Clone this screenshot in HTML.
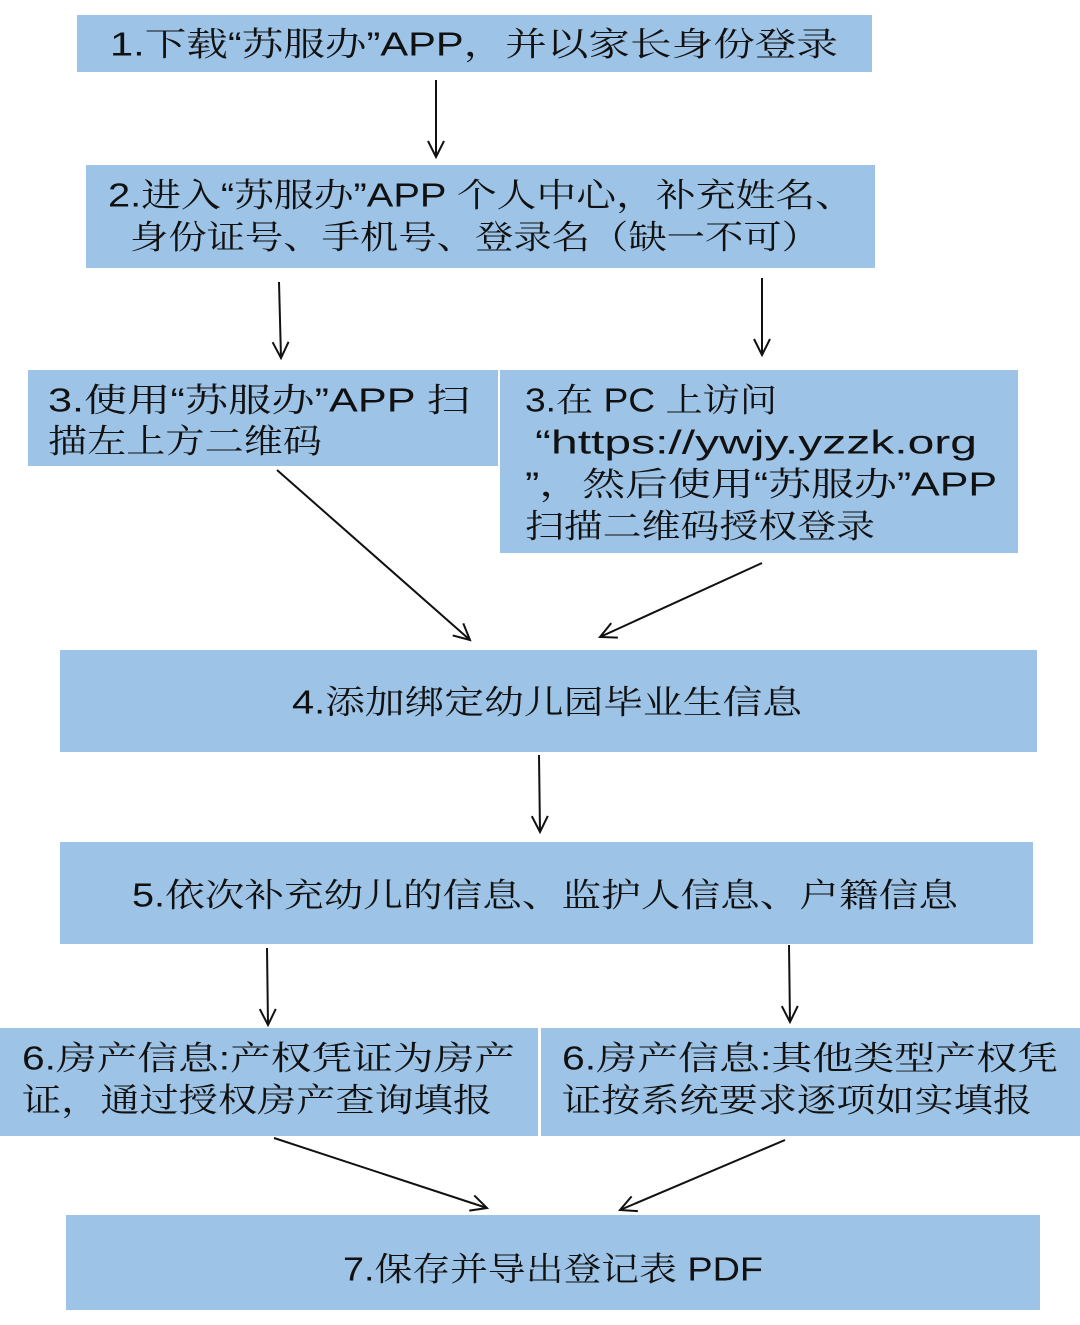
<!DOCTYPE html>
<html><head><meta charset="utf-8"><style>
html,body{margin:0;padding:0;background:#fff;}
svg{display:block}
text{font-family:"Liberation Sans","Noto Serif CJK SC","Noto Sans CJK SC",serif;font-size:33px;fill:#111;dominant-baseline:central}
</style></head><body>
<svg width="1080" height="1325" viewBox="0 0 1080 1325" xmlns="http://www.w3.org/2000/svg">
<defs>
<marker id="a" viewBox="0 0 20 20" refX="18" refY="10" markerWidth="20" markerHeight="20" markerUnits="userSpaceOnUse" orient="auto">
<path d="M2,2 L18,10 L2,18" fill="none" stroke="#111" stroke-width="2"/>
</marker>
</defs>
<g fill="#9dc3e6">
<rect x="77" y="15" width="795" height="57"/>
<rect x="86" y="165" width="789" height="103"/>
<rect x="28" y="370" width="470" height="96"/>
<rect x="500" y="370" width="518" height="183"/>
<rect x="60" y="650" width="977" height="102"/>
<rect x="60" y="842" width="973" height="102"/>
<rect x="0" y="1028" width="538" height="108"/>
<rect x="541" y="1028" width="539" height="108"/>
<rect x="66" y="1215" width="974" height="95"/>
</g>
<text x="110" y="44" textLength="728" lengthAdjust="spacingAndGlyphs">1.下载“苏服办”APP，并以家长身份登录</text>
<text x="108" y="195" textLength="747" lengthAdjust="spacingAndGlyphs">2.进入“苏服办”APP 个人中心，补充姓名、</text>
<text x="130" y="237" textLength="690" lengthAdjust="spacingAndGlyphs">身份证号、手机号、登录名（缺一不可）</text>
<text x="48" y="400" textLength="422" lengthAdjust="spacingAndGlyphs">3.使用“苏服办”APP 扫</text>
<text x="48" y="441" textLength="274" lengthAdjust="spacingAndGlyphs">描左上方二维码</text>
<text x="525" y="400" textLength="252" lengthAdjust="spacingAndGlyphs">3.在 PC 上访问</text>
<text x="535" y="442" textLength="442" lengthAdjust="spacingAndGlyphs">“https://ywjy.yzzk.org</text>
<text x="525" y="484" textLength="472" lengthAdjust="spacingAndGlyphs">”，然后使用“苏服办”APP</text>
<text x="525" y="526" textLength="350" lengthAdjust="spacingAndGlyphs">扫描二维码授权登录</text>
<text x="292" y="702" textLength="510" lengthAdjust="spacingAndGlyphs">4.添加绑定幼儿园毕业生信息</text>
<text x="132" y="895" textLength="826" lengthAdjust="spacingAndGlyphs">5.依次补充幼儿的信息、监护人信息、户籍信息</text>
<text x="22" y="1058" textLength="493" lengthAdjust="spacingAndGlyphs">6.房产信息:产权凭证为房产</text>
<text x="22" y="1100" textLength="470" lengthAdjust="spacingAndGlyphs">证，通过授权房产查询填报</text>
<text x="562" y="1058" textLength="496" lengthAdjust="spacingAndGlyphs">6.房产信息:其他类型产权凭</text>
<text x="562" y="1100" textLength="470" lengthAdjust="spacingAndGlyphs">证按系统要求逐项如实填报</text>
<text x="343" y="1269" textLength="420" lengthAdjust="spacingAndGlyphs">7.保存并导出登记表 PDF</text>
<g stroke="#111" stroke-width="2" fill="none" marker-end="url(#a)">
<line x1="436" y1="80" x2="436" y2="157"/>
<line x1="279" y1="282" x2="281" y2="358"/>
<line x1="762" y1="278" x2="762" y2="355"/>
<line x1="277" y1="470" x2="470" y2="640"/>
<line x1="762" y1="563" x2="600" y2="637"/>
<line x1="539" y1="755" x2="540" y2="832"/>
<line x1="267" y1="948" x2="268" y2="1025"/>
<line x1="789" y1="945" x2="790" y2="1022"/>
<line x1="274" y1="1138" x2="487" y2="1208"/>
<line x1="785" y1="1140" x2="620" y2="1210"/>
</g>
</svg>
</body></html>
